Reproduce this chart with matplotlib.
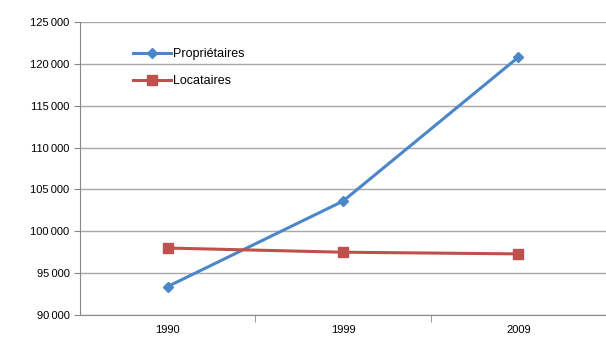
import matplotlib.pyplot as plt
import numpy as np
from matplotlib.ticker import FuncFormatter, FixedLocator

years = ['1990', '1999', '2009']
proprietaires = [93400, 103600, 120800]
locataires = [98000, 97500, 97300]

plt.rcParams['font.family'] = ['Liberation Sans', 'DejaVu Sans']

fig = plt.figure(figsize=(6.06, 3.4), dpi=100)
ax = fig.add_axes([80 / 606, 25 / 340, 1 - 80 / 606, 293 / 340])

x = np.arange(len(years))
ax.plot(x, proprietaires, color='#4A86C8', lw=2.2, marker='D', ms=5.5,
        label='Propriétaires')
ax.plot(x, locataires, color='#C0504D', lw=2.2, marker='s', ms=7.5,
        label='Locataires')

ax.set_xlim(-0.5, 2.5)
ax.set_ylim(90000, 125000)
ax.set_yticks(np.arange(90000, 125001, 5000))
ax.yaxis.set_major_formatter(FuncFormatter(lambda v, p: f'{int(v):,}'.replace(',', '\u202f')))
ax.set_xticks(x)
ax.set_xticklabels(years)
ax.xaxis.set_minor_locator(FixedLocator([0.5, 1.5]))
ax.tick_params(axis='x', which='major', length=0, pad=7, labelsize=8)
ax.tick_params(axis='x', which='minor', length=5, color='#888888')
ax.tick_params(axis='y', length=4, color='#888888', labelsize=8)

ax.grid(axis='y', color='#A8A8A8', lw=1)
ax.set_axisbelow(True)
for s in ['top', 'right']:
    ax.spines[s].set_visible(False)
ax.spines['left'].set_color('#888888')
ax.spines['bottom'].set_color('#888888')

ax.legend(loc='upper left', bbox_to_anchor=(0.08, 0.95), frameon=False,
          fontsize=9, handlelength=3, labelspacing=1.2, handletextpad=0.2)

fig.savefig('out.png')
